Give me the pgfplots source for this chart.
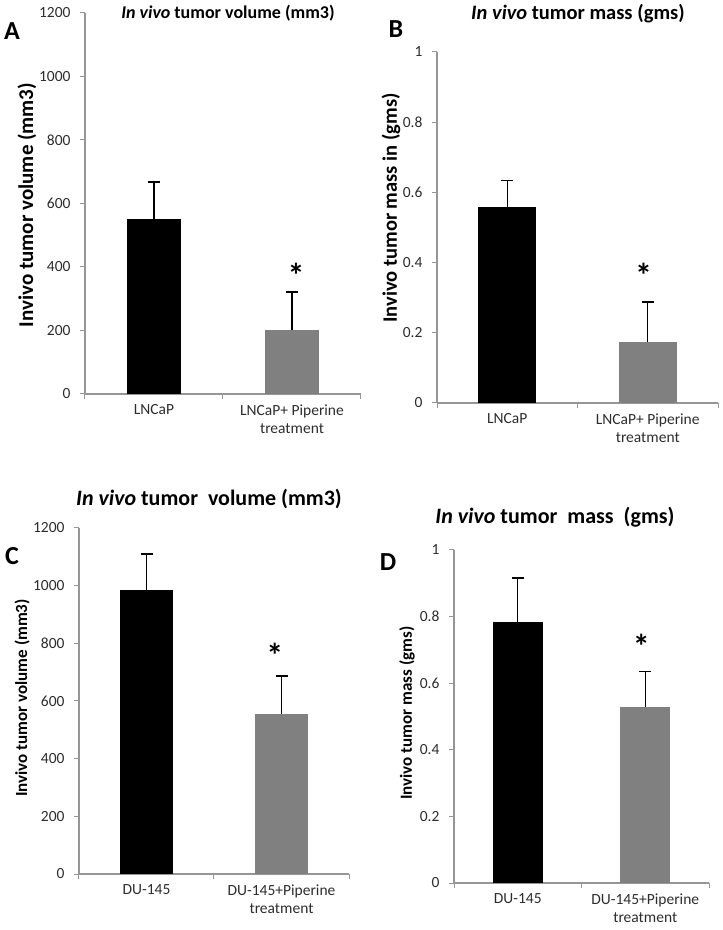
\documentclass[border=0pt]{standalone}
\usepackage{fontspec}
\setmainfont{Carlito}
\usepackage{pgfplots}
\pgfplotsset{compat=1.18}
\definecolor{axgray}{RGB}{150,150,150}
\definecolor{txtgray}{RGB}{45,45,45}
\definecolor{bargray}{RGB}{128,128,128}
\tikzset{sigstar/.style={font=\fontsize{34}{34}\bfseries\selectfont, inner sep=0pt}}
\pgfplotsset{
  panel/.style={
    scale only axis,
    anchor=south west,
    xmin=0, xmax=2, ymin=0,
    axis x line*=bottom, axis y line*=left,
    axis line style={-, axgray, line width=1.2pt},
    xtick={0,1,2}, xticklabels={,,},
    major tick length=5pt,
    tick style={axgray, line width=1pt},
    tick align=outside,
    extra x ticks={0.5,1.5},
    extra x tick style={major tick length=0pt},
    ticklabel style={font=\fontsize{15.5}{18}\selectfont, text=txtgray},
    xticklabel style={align=center, yshift=-7pt},
    yticklabel style={xshift=-6pt},
    scaled y ticks=false,
    /pgf/number format/1000 sep={},
    /pgf/number format/assume math mode=true,
    clip=false,
  },
  errs/.style={
    error bars/y dir=plus, error bars/y explicit,
    error bars/error bar style={black, line width=1.2pt},
    error bars/error mark options={black, line width=1.2pt, mark size=6pt, rotate=90}},
  barA/.style={ybar, bar shift=0pt, draw=none, fill=black, errs},
  barB/.style={ybar, bar shift=0pt, draw=none, fill=bargray, errs},
}
\begin{document}
\begin{tikzpicture}[x=1pt,y=1pt]
\path[use as bounding box] (0,0) rectangle (723,930);

% ---------- Panel A ----------
\begin{axis}[panel, at={(85pt,536pt)}, width=276pt, height=381pt,
  ymax=1200, ytick={0,200,...,1200},
  extra x tick labels={LNCaP,{LNCaP+ Piperine\\treatment}}]
  \addplot[barA, bar width=0.39] coordinates {(0.5,550) +- (0,118)};
  \addplot[barB, bar width=0.39] coordinates {(1.5,201) +- (0,120)};
  \node[sigstar] at (axis cs:1.53,375) {*};
\end{axis}

% ---------- Panel B ----------
\begin{axis}[panel, at={(437pt,527pt)}, width=281pt, height=351pt,
  ymax=1, ytick={0,0.2,...,1},
  extra x tick labels={LNCaP,{LNCaP+ Piperine\\treatment}}]
  \addplot[barA, bar width=0.41] coordinates {(0.5,0.558) +- (0,0.077)};
  \addplot[barB, bar width=0.41] coordinates {(1.5,0.174) +- (0,0.114)};
  \node[sigstar] at (axis cs:1.47,0.365) {*};
\end{axis}

% ---------- Panel C ----------
\begin{axis}[panel, at={(79pt,56pt)}, width=270pt, height=346pt,
  ymax=1200, ytick={0,200,...,1200},
  extra x tick labels={DU-145,{DU-145+Piperine\\treatment}}]
  \addplot[barA, bar width=0.39] coordinates {(0.5,985) +- (0,125)};
  \addplot[barB, bar width=0.39] coordinates {(1.5,555) +- (0,132)};
  \node[sigstar] at (axis cs:1.45,760) {*};
\end{axis}

% ---------- Panel D ----------
\begin{axis}[panel, at={(454pt,47pt)}, width=255pt, height=333pt,
  ymax=1, ytick={0,0.2,...,1},
  extra x tick labels={DU-145,{DU-145+Piperine\\treatment}}]
  \addplot[barA, bar width=0.39] coordinates {(0.5,0.785) +- (0,0.131)};
  \addplot[barB, bar width=0.39] coordinates {(1.5,0.528) +- (0,0.108)};
  \node[sigstar] at (axis cs:1.47,0.71) {*};
\end{axis}

% ---------- titles ----------
\node[font=\fontsize{18}{20}\bfseries\selectfont] at (228,917) {\textit{In vivo} tumor volume (mm3)};
\node[font=\fontsize{20.5}{22}\bfseries\selectfont] at (578,916) {\textit{In vivo} tumor mass (gms)};
\node[font=\fontsize{22}{24}\bfseries\selectfont, inner sep=0pt] at (209,431) {\textit{In vivo} tumor\ \ volume (mm3)};
\node[font=\fontsize{22}{24}\bfseries\selectfont, inner sep=0pt] at (555,413) {\textit{In vivo} tumor\ \ mass\ \ (gms)};

% ---------- y labels ----------
\node[rotate=90, font=\fontsize{21}{22}\bfseries\selectfont] at (27,725) {Invivo tumor volume (mm3)};
\node[rotate=90, font=\fontsize{20.5}{22}\bfseries\selectfont] at (391,722) {Invivo tumor mass in (gms)};
\node[rotate=90, font=\fontsize{17}{19}\bfseries\selectfont] at (22,232) {Invivo tumor volume (mm3)};
\node[rotate=90, font=\fontsize{17}{19}\bfseries\selectfont] at (407,217) {Invivo tumor mass (gms)};

% ---------- panel letters ----------
\node[font=\fontsize{26}{26}\bfseries\selectfont] at (12,899) {A};
\node[font=\fontsize{26}{26}\bfseries\selectfont] at (396,901) {B};
\node[font=\fontsize{26}{26}\bfseries\selectfont] at (12,374) {C};
\node[font=\fontsize{26}{26}\bfseries\selectfont] at (388,368) {D};
\end{tikzpicture}
\end{document}
